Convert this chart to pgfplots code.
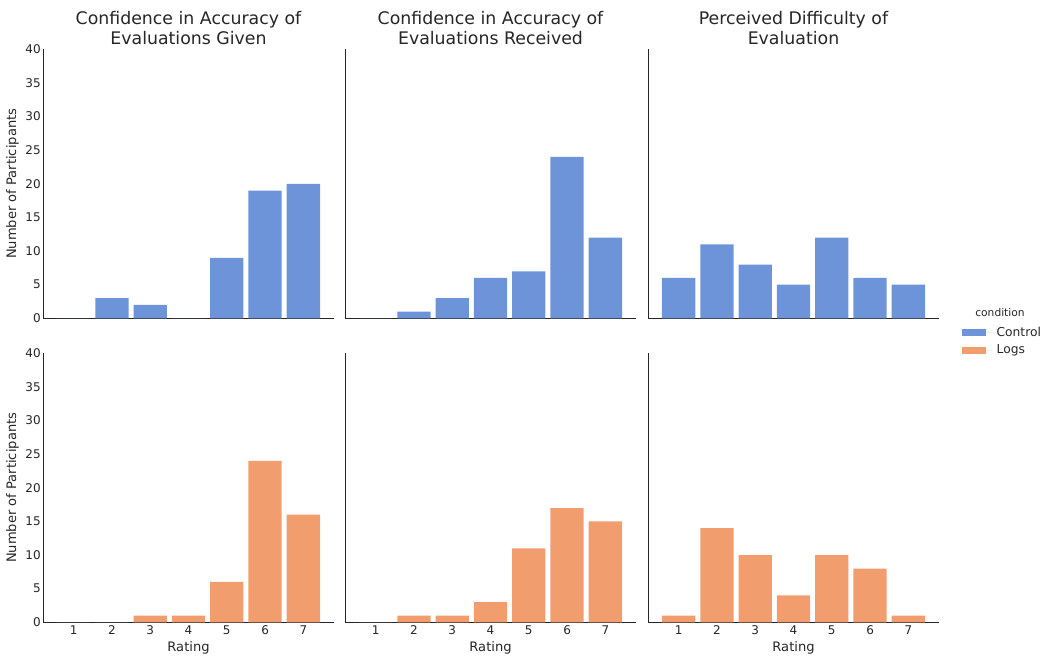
\documentclass[border=0pt]{standalone}
\usepackage{fontspec}
\setmainfont{DejaVu Sans}
\usepackage{pgfplots}
\pgfplotsset{compat=1.18}
\definecolor{cblue}{RGB}{109,147,217}
\definecolor{corange}{RGB}{241,157,110}
\definecolor{txt}{RGB}{38,38,38}
\pgfplotsset{
  facet/.style={
    scale only axis, width=218.25pt, height=201.75pt,
    xmin=0.2, xmax=7.8, ymin=0, ymax=40,
    axis x line*=bottom, axis y line*=left,
    axis line style={txt, line width=0.6pt},
    xtick={1,...,7}, ytick={0,5,...,40},
    major tick length=0pt,
    /pgf/number format/assume math mode=true,
    tick label style={font=\fontsize{9}{10.5}\selectfont, text=txt},
    yticklabel style={inner sep=1.5pt},
    xticklabel style={inner sep=2pt},
    label style={font=\fontsize{9.8}{12}\selectfont, text=txt},
    title style={font=\fontsize{13}{15}\selectfont, text=txt, align=center, yshift=-6pt},
  },
  top/.style={facet, xticklabels={}},
  bot/.style={facet, xlabel={Rating}},
  left/.style={ylabel={Number of Participants}},
  inner/.style={yticklabels={}},
}
\begin{document}
\begin{tikzpicture}
\path (0,0) rectangle (787.5pt,492.75pt);
% ---- top row (Control)
\begin{axis}[top, left, at={(32.25pt,254pt)}, anchor=south west,
  title={Confidence in Accuracy of\\Evaluations Given}]
\addplot[ybar, bar width=0.87, fill=cblue, draw=none] coordinates {(1,0) (2,3) (3,2) (4,0) (5,9) (6,19) (7,20)};
\end{axis}
\begin{axis}[top, inner, at={(258.75pt,254pt)}, anchor=south west,
  title={Confidence in Accuracy of\\Evaluations Received}]
\addplot[ybar, bar width=0.87, fill=cblue, draw=none] coordinates {(1,0) (2,1) (3,3) (4,6) (5,7) (6,24) (7,12)};
\end{axis}
\begin{axis}[top, inner, at={(486pt,254pt)}, anchor=south west,
  title={Perceived Difficulty of\\Evaluation},
  legend style={at={(axis description cs:1.078,-0.021)}, anchor=north west, draw=none, fill=none,
    font=\fontsize{9.2}{11}\selectfont, text=txt, inner sep=0pt, row sep=1pt},
  legend cell align=left,
  legend image code/.code={\fill[#1] (0pt,-2.8pt) rectangle (18pt,2.8pt); \path (0pt,0pt) -- (24pt,0pt);}]
\addplot[ybar, bar width=0.87, fill=cblue, draw=none, forget plot] coordinates {(1,6) (2,11) (3,8) (4,5) (5,12) (6,6) (7,5)};
\addlegendimage{fill=cblue, draw=none}
\addlegendentry{Control}
\addlegendimage{fill=corange, draw=none}
\addlegendentry{Logs}
\end{axis}
% ---- bottom row (Logs)
\begin{axis}[bot, left, at={(32.25pt,26pt)}, anchor=south west]
\addplot[ybar, bar width=0.87, fill=corange, draw=none] coordinates {(1,0) (2,0) (3,1) (4,1) (5,6) (6,24) (7,16)};
\end{axis}
\begin{axis}[bot, inner, at={(258.75pt,26pt)}, anchor=south west]
\addplot[ybar, bar width=0.87, fill=corange, draw=none] coordinates {(1,0) (2,1) (3,1) (4,3) (5,11) (6,17) (7,15)};
\end{axis}
\begin{axis}[bot, inner, at={(486pt,26pt)}, anchor=south west]
\addplot[ybar, bar width=0.87, fill=corange, draw=none] coordinates {(1,1) (2,14) (3,10) (4,4) (5,10) (6,8) (7,1)};
\end{axis}
\node[font=\fontsize{8}{10}\selectfont, text=txt] at (750pt,258pt) {condition};
\end{tikzpicture}
\end{document}
